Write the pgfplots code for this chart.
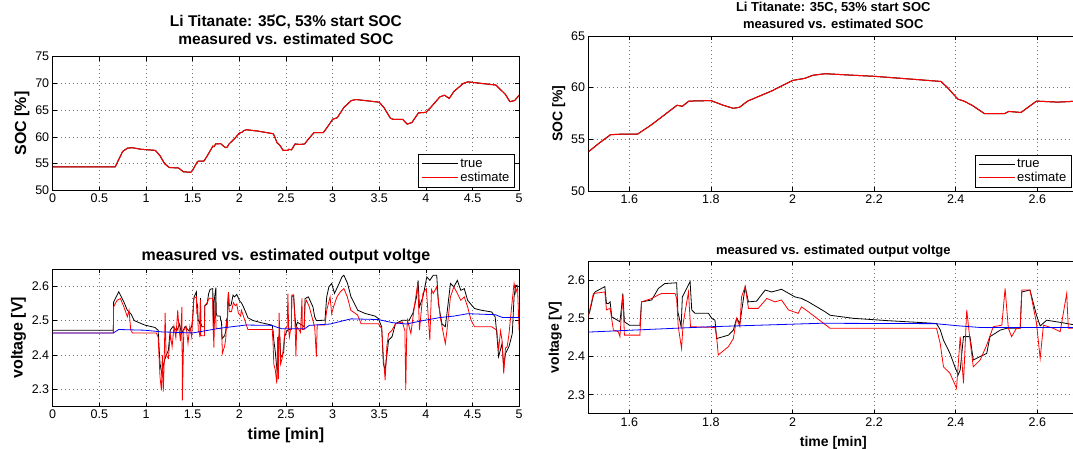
\documentclass[border=0pt]{standalone}
\usepackage{pgfplots}
\pgfplotsset{compat=1.18}
\usepackage{pgfplotstable}
\usepackage{fontspec}
\setmainfont{Liberation Sans}

\pgfplotstableread{
t v
0 54.4
0.67 54.4
0.70 55.5
0.75 57.3
0.80 57.9
0.85 58.0
0.95 57.7
1.10 57.5
1.15 56.5
1.20 55.0
1.25 54.3
1.35 54.2
1.40 53.5
1.48 53.4
1.50 53.8
1.525 54.6
1.554 55.45
1.58 55.5
1.62 55.5
1.654 56.4
1.717 58.3
1.73 58.2
1.746 58.7
1.80 58.75
1.83 58.3
1.855 58.0
1.87 58.1
1.89 58.7
1.95 59.7
2.00 60.7
2.03 60.9
2.05 61.2
2.08 61.35
2.15 61.2
2.20 61.1
2.30 60.8
2.364 60.6
2.38 60.0
2.405 58.9
2.42 58.7
2.44 58.3
2.47 57.5
2.52 57.5
2.53 57.7
2.56 57.6
2.598 58.7
2.65 58.6
2.70 58.7
2.75 59.8
2.80 60.8
2.90 60.8
2.95 62.0
3.00 63.3
3.05 63.6
3.12 65.5
3.20 66.8
3.25 67.0
3.40 66.7
3.50 66.5
3.55 65.5
3.62 63.5
3.65 63.3
3.75 63.3
3.80 62.4
3.85 62.7
3.92 64.5
4.00 64.6
4.05 65.5
4.15 67.5
4.20 67.8
4.25 67.2
4.30 68.5
4.40 70.0
4.45 70.3
4.60 70.0
4.75 69.7
4.85 68.0
4.90 66.6
4.95 66.8
5.00 67.8
}\socdata

\pgfplotstableread{
t v
0 2.472
0.650 2.472
0.653 2.554
0.708 2.584
0.763 2.554
0.800 2.530
0.837 2.520
0.874 2.500
0.985 2.487
1.095 2.480
1.130 2.472
1.150 2.375
1.170 2.345
1.190 2.375
1.205 2.390
1.240 2.414
1.260 2.472
1.290 2.483
1.330 2.470
1.360 2.490
1.380 2.462
1.420 2.483
1.460 2.470
1.490 2.483
1.503 2.517
1.512 2.560
1.516 2.569
1.540 2.583
1.544 2.539
1.549 2.539
1.553 2.543
1.557 2.504
1.577 2.491
1.581 2.530
1.584 2.565
1.588 2.491
1.600 2.482
1.626 2.482
1.630 2.543
1.655 2.548
1.671 2.578
1.687 2.591
1.716 2.593
1.719 2.517
1.727 2.478
1.730 2.556
1.749 2.596
1.753 2.522
1.761 2.513
1.794 2.513
1.802 2.500
1.810 2.495
1.814 2.447
1.843 2.456
1.855 2.469
1.863 2.500
1.871 2.487
1.884 2.583
1.892 2.543
1.912 2.545
1.933 2.574
1.949 2.569
1.973 2.576
2.006 2.556
2.022 2.552
2.039 2.543
2.080 2.517
2.092 2.508
2.149 2.500
2.231 2.494
2.345 2.487
2.353 2.486
2.362 2.470
2.370 2.443
2.386 2.408
2.398 2.373
2.406 2.352
2.411 2.365
2.419 2.452
2.435 2.452
2.443 2.391
2.460 2.400
2.476 2.408
2.484 2.452
2.509 2.469
2.525 2.474
2.558 2.474
2.562 2.569
2.582 2.574
2.598 2.508
2.607 2.480
2.623 2.495
2.664 2.488
2.695 2.482
2.705 2.564
2.740 2.569
2.789 2.540
2.808 2.511
2.826 2.500
2.918 2.501
2.937 2.569
2.960 2.598
2.990 2.608
3.020 2.579
3.070 2.608
3.100 2.627
3.121 2.632
3.160 2.608
3.197 2.569
3.270 2.530
3.345 2.521
3.455 2.513
3.490 2.506
3.526 2.482
3.544 2.375
3.563 2.356
3.600 2.443
3.637 2.453
3.674 2.491
3.747 2.501
3.820 2.501
3.860 2.521
3.900 2.569
3.916 2.617
3.931 2.540
3.968 2.569
4.010 2.627
4.042 2.617
4.079 2.632
4.116 2.632
4.134 2.550
4.171 2.491
4.208 2.482
4.226 2.521
4.263 2.608
4.300 2.598
4.337 2.617
4.374 2.588
4.411 2.593
4.447 2.559
4.521 2.535
4.595 2.530
4.705 2.525
4.742 2.511
4.760 2.462
4.779 2.395
4.816 2.433
4.834 2.366
4.853 2.404
4.890 2.424
4.926 2.462
4.945 2.569
4.963 2.603
5.000 2.598
}\vmeas

\pgfplotstableread{
t v
0 2.464
0.650 2.464
0.653 2.540
0.690 2.559
0.726 2.564
0.763 2.540
0.800 2.511
0.818 2.530
0.837 2.472
0.855 2.464
1.110 2.464
1.130 2.452
1.150 2.337
1.165 2.297
1.175 2.400
1.185 2.293
1.195 2.380
1.205 2.522
1.215 2.400
1.240 2.390
1.260 2.460
1.280 2.424
1.300 2.483
1.320 2.450
1.340 2.530
1.355 2.472
1.370 2.440
1.385 2.540
1.390 2.268
1.405 2.472
1.430 2.483
1.450 2.434
1.470 2.483
1.490 2.452
1.503 2.522
1.512 2.565
1.540 2.569
1.544 2.522
1.553 2.526
1.561 2.469
1.573 2.465
1.577 2.452
1.584 2.561
1.588 2.456
1.626 2.456
1.630 2.543
1.655 2.552
1.671 2.561
1.679 2.565
1.712 2.565
1.716 2.552
1.720 2.478
1.728 2.421
1.732 2.487
1.745 2.569
1.750 2.478
1.810 2.476
1.814 2.452
1.818 2.404
1.843 2.426
1.855 2.447
1.863 2.500
1.871 2.478
1.875 2.556
1.884 2.583
1.892 2.526
1.916 2.526
1.937 2.552
1.957 2.543
1.973 2.548
1.990 2.522
2.014 2.513
2.022 2.530
2.039 2.517
2.071 2.491
2.092 2.474
2.353 2.474
2.362 2.434
2.370 2.373
2.386 2.356
2.402 2.317
2.411 2.452
2.419 2.330
2.427 2.522
2.435 2.443
2.443 2.373
2.460 2.391
2.476 2.430
2.492 2.478
2.513 2.482
2.521 2.578
2.529 2.474
2.537 2.452
2.549 2.474
2.558 2.474
2.562 2.574
2.582 2.574
2.598 2.487
2.607 2.395
2.615 2.482
2.639 2.474
2.656 2.465
2.672 2.565
2.676 2.474
2.695 2.474
2.705 2.550
2.720 2.559
2.750 2.540
2.789 2.500
2.808 2.482
2.826 2.395
2.835 2.487
2.918 2.487
2.937 2.530
2.973 2.569
2.990 2.520
3.010 2.540
3.047 2.569
3.084 2.584
3.121 2.593
3.158 2.569
3.195 2.530
3.268 2.516
3.305 2.491
3.489 2.491
3.526 2.477
3.544 2.395
3.563 2.327
3.581 2.424
3.600 2.462
3.637 2.472
3.674 2.491
3.747 2.496
3.775 2.470
3.784 2.298
3.795 2.470
3.803 2.501
3.839 2.462
3.876 2.540
3.913 2.608
3.931 2.472
3.968 2.579
4.005 2.593
4.042 2.443
4.060 2.590
4.079 2.579
4.116 2.598
4.134 2.560
4.153 2.511
4.208 2.433
4.226 2.472
4.263 2.569
4.300 2.598
4.337 2.579
4.374 2.559
4.411 2.569
4.447 2.540
4.484 2.501
4.521 2.482
4.705 2.482
4.760 2.472
4.779 2.414
4.800 2.470
4.816 2.443
4.834 2.346
4.853 2.420
4.871 2.424
4.890 2.460
4.926 2.560
4.945 2.608
4.963 2.580
4.982 2.598
4.995 2.500
5.000 2.470
}\vest

\pgfplotstableread{
t v
0 2.464
0.650 2.464
0.708 2.474
0.985 2.472
1.170 2.467
1.500 2.464
1.800 2.478
2.070 2.487
2.350 2.486
2.410 2.480
2.460 2.476
2.700 2.476
2.750 2.486
2.976 2.490
3.120 2.500
3.200 2.505
3.490 2.503
3.640 2.494
3.790 2.490
3.970 2.500
4.155 2.509
4.300 2.513
4.450 2.520
4.745 2.517
4.820 2.509
5.000 2.509
}\vocv

\pgfplotsset{
  mstyle/.style={
    scale only axis, anchor=south west,
    axis line style={line width=0.8pt, black},
    every tick/.style={black, line width=0.6pt},
    tick align=inside, major tick length=4pt,
    xmajorgrids, ymajorgrids,
    major grid style={dash pattern=on 1pt off 3pt, black!55, line width=0.5pt},
    /pgf/number format/assume math mode=true,
    tick label style={font=\fontsize{12.5}{14}\selectfont},
    legend cell align=left,
    legend style={draw=black, line width=0.6pt, fill=white,
      font=\fontsize{13}{14}\selectfont, inner sep=2.5pt, row sep=-1pt},
    legend image code/.code={\draw[#1] (0pt,0pt) -- (36pt,0pt);},
  },
}

\begin{document}
\begin{tikzpicture}
\useasboundingbox (0,0) rectangle (1073pt,448pt);
\clip (0,0) rectangle (1073pt,448pt);

% top left
\begin{axis}[mstyle, at={(52.7pt,257.5pt)}, width=466.5pt, height=133.8pt,
  xmin=0, xmax=5, ymin=50, ymax=75,
  xtick={0,0.5,1,1.5,2,2.5,3,3.5,4,4.5,5},
  ytick={50,55,60,65,70,75},
  ylabel={\textbf{SOC [\%]}},
  ylabel style={font=\fontsize{16}{18}\selectfont, yshift=-1pt},
  title={Li Titanate: 35\llap{\raisebox{7.5pt}{\fontsize{7}{7}\selectfont °}}C, 53\% start SOC\\measured vs. estimated SOC},
  title style={font=\bfseries\fontsize{15.5}{17.5}\selectfont, align=center, yshift=3pt},
  legend style={at={(rel axis cs:1,0)}, anchor=south east, xshift=-5pt, yshift=3pt},
]
\addplot[black, line width=1pt] table[x=t,y=v] {\socdata};
\addlegendentry{true}
\addplot[red, line width=1pt] table[x=t,y=v] {\socdata};
\addlegendentry{estimate}
\end{axis}

% bottom left
\begin{axis}[mstyle, at={(52.7pt,41.5pt)}, width=466.5pt, height=137.5pt,
  xmin=0, xmax=5, ymin=2.25, ymax=2.65,
  xtick={0,0.5,1,1.5,2,2.5,3,3.5,4,4.5,5},
  ytick={2.3,2.4,2.5,2.6},
  ylabel={\textbf{voltage [V]}},
  ylabel style={font=\fontsize{16}{18}\selectfont, yshift=-1pt},
  xlabel={\textbf{time [min]}},
  xlabel style={font=\fontsize{16}{18}\selectfont, yshift=-2pt},
  title={measured vs. estimated output voltge},
  title style={font=\bfseries\fontsize{16}{18}\selectfont, yshift=-4pt},
]
\addplot[black, line width=0.8pt] table[x=t,y=v] {\vmeas};
\addplot[red, line width=0.8pt] table[x=t,y=v] {\vest};
\addplot[blue, line width=0.8pt] table[x=t,y=v] {\vocv};
\end{axis}

% top right
\begin{axis}[mstyle, at={(588.5pt,257pt)}, width=489.6pt, height=155pt,
  xmin=1.5, xmax=2.7, ymin=50, ymax=65,
  xtick={1.6,1.8,2,2.2,2.4,2.6},
  ytick={50,55,60,65},
  ylabel={\textbf{SOC [\%]}},
  ylabel style={font=\fontsize{14}{16}\selectfont, yshift=-1pt},
  title={Li Titanate: 35C, 53\% start SOC\\measured vs. estimated SOC},
  title style={font=\bfseries\fontsize{13}{17}\selectfont, align=center, yshift=-2pt},
  legend style={at={(rel axis cs:1,0)}, anchor=south east, xshift=-7pt, yshift=3pt},
]
\addplot[black, line width=1pt] table[x=t,y=v] {\socdata};
\addlegendentry{true}
\addplot[red, line width=1pt] table[x=t,y=v] {\socdata};
\addlegendentry{estimate}
\end{axis}

% bottom right
\begin{axis}[mstyle, at={(588.5pt,34.2pt)}, width=489.6pt, height=152.8pt,
  xmin=1.5, xmax=2.7, ymin=2.25, ymax=2.65,
  xtick={1.6,1.8,2,2.2,2.4,2.6},
  ytick={2.3,2.4,2.5,2.6},
  ylabel={\textbf{voltage [V]}},
  ylabel style={font=\fontsize{14}{16}\selectfont, yshift=-1pt},
  xlabel={\textbf{time [min]}},
  xlabel style={font=\fontsize{14}{16}\selectfont, yshift=-3pt},
  title={measured vs. estimated output voltge},
  title style={font=\bfseries\fontsize{13}{15}\selectfont, yshift=-6pt},
]
\addplot[black, line width=0.8pt] table[x=t,y=v] {\vmeas};
\addplot[red, line width=0.8pt] table[x=t,y=v] {\vest};
\addplot[blue, line width=0.8pt] table[x=t,y=v] {\vocv};
\end{axis}
\end{tikzpicture}
\end{document}
